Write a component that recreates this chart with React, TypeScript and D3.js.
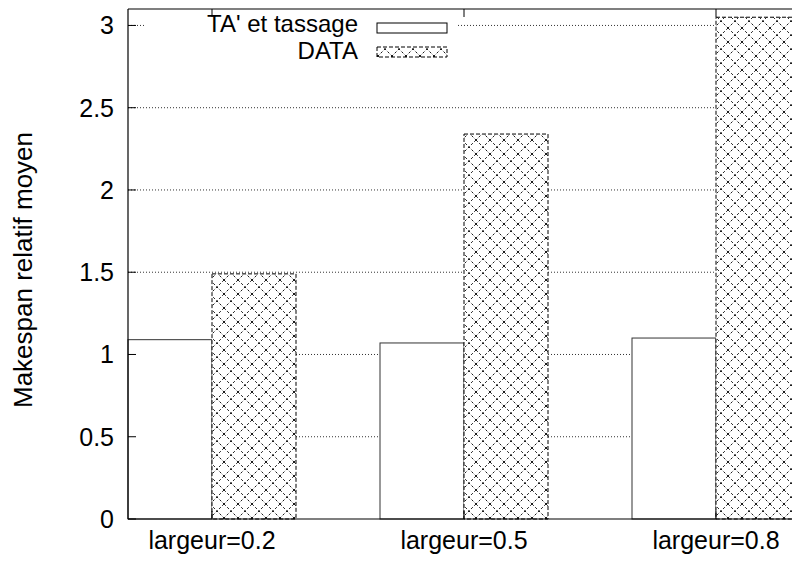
import React from "react";
import * as d3 from "d3";

const categories = ["largeur=0.2", "largeur=0.5", "largeur=0.8"];
const seriesNames = ["TA' et tassage", "DATA"];
const taValues = [1.09, 1.07, 1.1];
const dataValues = [1.49, 2.34, 3.05];
const yTicks = [0, 0.5, 1, 1.5, 2, 2.5, 3];
const yTickLabels = ["0", "0.5", "1", "1.5", "2", "2.5", "3"];

const W = 792;
const H = 563;
const FONT = "'Liberation Sans', Arial, Helvetica, sans-serif";
const FS = 25;

export default function App() {
  const left = 128;
  const top = 9;
  const bottom = 519;
  const x = d3.scaleLinear().domain([-1 / 3, 7 / 3]).range([left, 800]);
  const y = d3.scaleLinear().domain([0, 3.1]).range([bottom, top]);
  const bw = x(1 / 3) - x(0);

  return (
    <svg
      width={W}
      height={H}
      style={{ position: "absolute", left: 0, top: 0, background: "#fff" }}
    >
      <defs>
        <pattern id="xhatch" patternUnits="userSpaceOnUse" width={14} height={14}>
          <rect width={14} height={14} fill="#fff" />
          <path
            d="M0,0 L14,14 M14,0 L0,14"
            stroke="#000"
            strokeWidth={0.9}
            strokeDasharray="2.5,2"
            fill="none"
          />
        </pattern>
      </defs>
      <rect x={0} y={0} width={W} height={H} fill="#fff" />

      {/* grid */}
      {yTicks.slice(1).map((t) => (
        <line
          key={"g" + t}
          x1={left}
          x2={W}
          y1={y(t)}
          y2={y(t)}
          stroke="#333"
          strokeWidth={1}
          strokeDasharray="1,2"
        />
      ))}

      {/* bars */}
      {categories.map((c, i) => (
        <g key={c}>
          <rect
            x={x(i) - bw}
            y={y(taValues[i])}
            width={bw}
            height={bottom - y(taValues[i])}
            fill="#fff"
            stroke="#333"
            strokeWidth={1}
          />
          <rect
            x={x(i)}
            y={y(dataValues[i])}
            width={bw}
            height={bottom - y(dataValues[i])}
            fill="url(#xhatch)"
            stroke="#000"
            strokeWidth={1}
            strokeDasharray="4,2"
          />
        </g>
      ))}

      {/* legend box (opaque) */}
      <rect x={146} y={top + 1} width={310} height={56} fill="#fff" />
      <text x={358} y={32} textAnchor="end" fontFamily={FONT} fontSize={24}>
        {seriesNames[0]}
      </text>
      <rect x={377} y={23} width={70} height={10} fill="#fff" stroke="#000" strokeWidth={1} />
      <text x={358} y={59} textAnchor="end" fontFamily={FONT} fontSize={24}>
        {seriesNames[1]}
      </text>
      <rect
        x={377}
        y={47}
        width={70}
        height={10}
        fill="url(#xhatch)"
        stroke="#000"
        strokeWidth={1}
        strokeDasharray="4,2"
      />

      {/* border */}
      <line x1={left} x2={W} y1={top} y2={top} stroke="#000" strokeWidth={1.2} />
      <line x1={left} x2={W} y1={bottom} y2={bottom} stroke="#000" strokeWidth={1.2} />
      <line x1={left} x2={left} y1={top} y2={bottom} stroke="#000" strokeWidth={1.2} />

      {/* y ticks */}
      {yTicks.map((t, i) => (
        <g key={"t" + t}>
          <line x1={left} x2={left + 8} y1={y(t)} y2={y(t)} stroke="#000" />
          <text
            x={114}
            y={y(t)}
            dy="0.36em"
            textAnchor="end"
            fontFamily={FONT}
            fontSize={FS}
          >
            {yTickLabels[i]}
          </text>
        </g>
      ))}

      {/* x ticks and labels */}
      {categories.map((c, i) => (
        <g key={"x" + c}>
          <line x1={x(i)} x2={x(i)} y1={top} y2={top + 8} stroke="#000" />
          <line x1={x(i)} x2={x(i)} y1={bottom} y2={bottom - 8} stroke="#000" />
          <text x={x(i)} y={549} textAnchor="middle" fontFamily={FONT} fontSize={FS}>
            {c}
          </text>
        </g>
      ))}

      <text
        transform={`translate(32,${(top + bottom) / 2 + 6}) rotate(-90)`}
        textAnchor="middle"
        fontFamily={FONT}
        fontSize={26}
      >
        Makespan relatif moyen
      </text>
    </svg>
  );
}
